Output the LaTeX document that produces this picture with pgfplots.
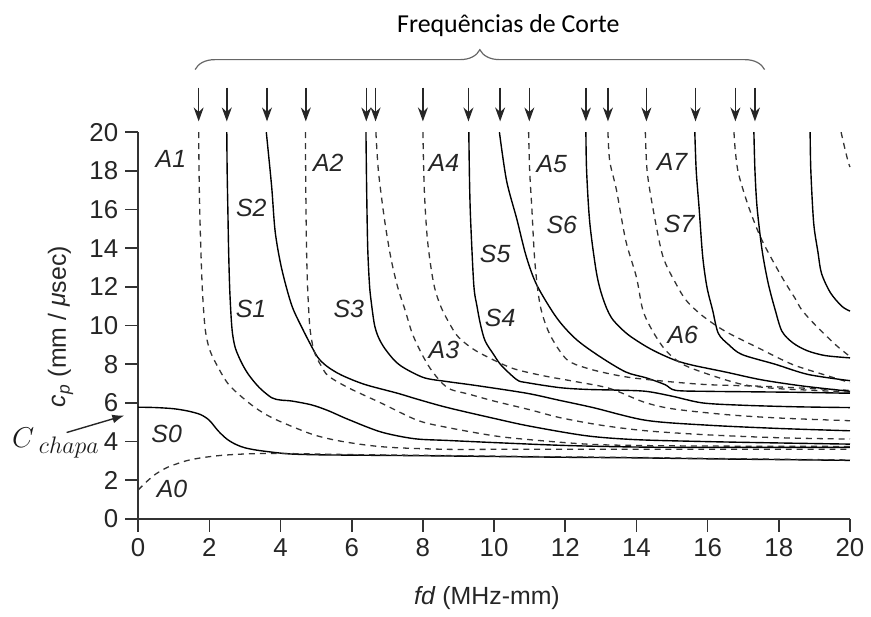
\documentclass[border=0pt]{standalone}
\usepackage{fontspec}
\setmainfont{Liberation Sans}
\newfontfamily\titlefont{Carlito}
\usepackage{pgfplots}
\pgfplotsset{compat=1.18}
\usetikzlibrary{arrows.meta,decorations.pathreplacing}

\pgfplotsset{
  mode s/.style={black, line width=0.7pt, smooth, tension=0.5},
  mode a/.style={black!80, line width=0.65pt, dash pattern=on 3pt off 2.5pt, smooth, tension=0.5},
}
\tikzset{lbl/.style={font=\fontsize{12.5}{14}\selectfont\itshape, text=black!85, inner sep=0pt}}

\begin{document}
\begin{tikzpicture}
\begin{axis}[
  scale only axis, width=358pt, height=194.5pt,
  xmin=0, xmax=20, ymin=0, ymax=20,
  xtick={0,2,...,20}, ytick={0,2,...,20},
  axis x line*=bottom, axis y line*=left,
  xtick pos=left, ytick pos=left,
  axis line style={-, black!80, line width=0.9pt},
  y axis line style={line width=1.2pt},
  tick align=outside, major tick length=6.5pt,
  tick style={black!80, line width=0.8pt},
  ticklabel style={font=\fontsize{13}{15}\selectfont, text=black!85},
  /pgf/number format/assume math mode=true,
  xlabel={\textit{fd} (MHz-mm)},
  ylabel={{\itshape c}\textsubscript{\itshape p} (mm / {\itshape μ}sec)},
  every axis x label/.style={at={(rel axis cs:0.49,-0.205)}, anchor=center,
    font=\fontsize{12.5}{14}\selectfont, text=black!85},
  every axis y label/.style={at={(rel axis cs:-0.109,0.497)}, anchor=center,
    rotate=90, font=\fontsize{12.5}{14}\selectfont, text=black!85},
  clip=false,
]
% picture frame
\path (rel axis cs:-0.1941,-0.2339) rectangle (rel axis cs:1.0223,1.3419);

% S0 / A0
\addplot[mode s] coordinates {(0,5.78) (0.5,5.76) (1.0,5.7) (1.4,5.58) (1.75,5.4) (2.0,5.1) (2.25,4.55) (2.5,4.12) (2.75,3.85) (3.0,3.68) (3.4,3.54) (4.2,3.37) (5,3.32) (6,3.3) (8,3.27) (10,3.23) (12,3.19) (14,3.16) (16,3.11) (18,3.07) (20,3.03)};
\addplot[mode a] coordinates {(0,1.5) (0.25,1.95) (0.5,2.33) (0.8,2.65) (1.1,2.86) (1.4,3.03) (1.8,3.17) (2.35,3.29) (3.0,3.36) (3.75,3.39) (5,3.36) (6,3.33) (8,3.29) (10,3.25) (12,3.21) (14,3.18) (16,3.13) (18,3.09) (20,3.05)};

% A1
\addplot[mode a] coordinates {(1.70,20) (1.71,18) (1.73,16) (1.76,14) (1.8,12) (1.85,10.5) (1.9,9.6) (2.0,8.8) (2.17,8.1) (2.54,6.96) (3.1,6.02) (3.5,5.5) (3.94,5.08) (4.87,4.39) (5.61,4.05) (6.5,3.8) (7.3,3.68) (8.7,3.6) (10,3.6) (12,3.6) (14,3.6) (16,3.6) (18,3.6) (20,3.6)};
% S1
\addplot[mode s] coordinates {(2.49,20) (2.5,18) (2.52,16) (2.54,14) (2.57,12) (2.61,10.5) (2.65,9.6) (2.73,8.84) (2.9,8.1) (3.1,7.47) (3.4,6.8) (3.75,6.27) (4.0,6.15) (4.31,6.1) (4.87,5.9) (5.34,5.6) (5.9,5.15) (6.82,4.5) (7.76,4.15) (8.7,4.06) (10,3.95) (12,3.8) (14,3.72) (16,3.7) (18,3.7) (20,3.7)};
% S2
\addplot[mode s] coordinates {(3.6,20) (3.75,17.2) (3.85,14.85) (4.03,12.96) (4.31,11.07) (4.6,9.9) (4.85,9.0) (5.05,8.35) (5.3,7.9) (5.7,7.45) (6.36,6.96) (7.29,6.5) (7.85,6.19) (8.69,5.76) (10,5.2) (11,4.8) (12.6,4.3) (14,4.1) (16,4.0) (18,3.93) (20,3.87)};
% A2
\addplot[mode a] coordinates {(4.7,20) (4.71,17) (4.73,14) (4.76,12) (4.82,10) (4.9,9.0) (5.0,8.4) (5.15,7.9) (5.34,7.4) (5.9,6.79) (6.82,6.0) (7.85,5.1) (8.69,4.73) (10,4.3) (11,4.1) (12.6,3.87) (14,3.8) (16,3.77) (18,3.76) (20,3.75)};
% S3
\addplot[mode s] coordinates {(6.4,20) (6.42,17) (6.45,14) (6.5,12.1) (6.55,11.2) (6.64,10.04) (6.75,9.4) (6.92,8.84) (7.2,8.2) (7.48,7.8) (8.04,7.3) (8.7,7.1) (9.5,6.9) (10.92,6.5) (11.8,6.15) (12.78,5.76) (14.27,5.1) (16,4.85) (18,4.68) (20,4.56)};
% A3
\addplot[mode a] coordinates {(6.68,20) (6.75,18) (6.92,15.5) (7.1,13.5) (7.29,12) (7.5,10.8) (7.7,9.6) (7.95,8.6) (8.2,7.8) (8.5,7.1) (8.78,6.7) (9.3,6.45) (9.99,6.1) (11,5.65) (11.85,5.24) (13,4.85) (14.27,4.56) (16,4.35) (18,4.2) (20,4.13)};
% A4
\addplot[mode a] coordinates {(8.0,20) (8.04,17) (8.13,14.4) (8.3,12.2) (8.5,11.0) (8.78,10.0) (9.0,9.4) (9.4,8.8) (9.9,8.3) (10.55,7.77) (11.4,7.4) (12.3,7.1) (13.25,6.75) (14.2,6.05) (15,5.7) (16.5,5.4) (18,5.22) (20,5.08)};
% S4
\addplot[mode s] coordinates {(9.29,20) (9.31,17.5) (9.34,15.5) (9.43,12.1) (9.52,11) (9.62,10.04) (9.75,9.2) (9.99,8.5) (10.2,7.95) (10.64,7.2) (10.92,7.05) (11.85,6.79) (12.6,6.7) (13.5,6.66) (14.27,6.6) (15,6.35) (15.86,6.0) (17,5.88) (18.5,5.8) (20,5.76)};
% S5
\addplot[mode s] coordinates {(10.15,20) (10.35,17.5) (10.64,15.5) (10.9,13.6) (11.2,12.1) (11.76,10.4) (12.3,9.3) (12.97,8.4) (13.7,7.6) (14.27,7.3) (14.8,6.95) (15.1,6.65) (16,6.6) (17,6.58) (18.5,6.55) (20,6.5)};
% A5
\addplot[mode a] coordinates {(10.97,20) (11.0,18) (11.06,16.1) (11.15,13.2) (11.3,11.0) (11.57,9.53) (12.04,8.25) (12.6,7.8) (13.34,7.47) (14.1,7.25) (15.86,6.96) (17.7,6.85) (20,6.65)};
% S6
\addplot[mode s] coordinates {(12.58,20) (12.6,18) (12.69,15.3) (12.88,12.7) (13.06,11.4) (13.3,10.4) (13.72,9.6) (14.2,9.0) (14.6,8.6) (15.1,8.2) (15.58,7.95) (16.5,7.6) (17.5,7.2) (18.65,6.88) (20,6.6)};
% A6
\addplot[mode a] coordinates {(13.2,20) (13.25,18.5) (13.44,17.0) (13.7,14.4) (14.0,12.5) (14.18,10.8) (14.46,9.7) (14.83,8.7) (15.3,8.0) (16.04,7.47) (16.97,6.96) (17.9,6.75) (19,6.65) (20,6.55)};
% A7
\addplot[mode a] coordinates {(14.25,20) (14.3,18) (14.46,16.1) (14.74,13.6) (15.1,12.2) (15.4,11.3) (15.86,10.5) (16.5,9.7) (17.43,8.84) (18.37,8.0) (19.2,7.5) (20,7.05)};
% S7
\addplot[mode s] coordinates {(15.64,20) (15.68,18) (15.76,16.1) (15.86,13.6) (15.98,12) (16.14,10.8) (16.3,9.6) (16.6,9.0) (16.97,8.5) (17.9,8.0) (18.83,7.47) (20,7.15)};
% A8
\addplot[mode a] coordinates {(16.74,20) (16.78,19) (16.87,17.84) (17.16,16.1) (17.53,14.4) (18.09,12.5) (18.46,11.4) (18.65,10.8) (19.02,10.04) (19.6,9.0) (20,8.4)};
% S8
\addplot[mode s] coordinates {(17.3,20) (17.33,18) (17.39,16.1) (17.53,13.9) (17.7,12.2) (17.9,10.8) (18.09,9.7) (18.4,9.1) (18.8,8.7) (19.3,8.45) (20,8.33)};
% S9
\addplot[mode s] coordinates {(18.88,20) (18.9,18) (18.98,15.3) (19.1,13.8) (19.2,12.7) (19.45,11.7) (19.77,11.0) (20,10.75)};
% A9
\addplot[mode a] coordinates {(19.75,20) (19.85,19.2) (19.95,18.46) (20,18.2)};

% cut-off arrows
\addplot[black!85, line width=0.8pt, -{Stealth[length=7pt,width=5pt]},
  quiver={u=0, v=-1.75}] coordinates {(1.70,22.31) (2.49,22.31) (3.62,22.31) (4.71,22.31) (6.41,22.31) (6.67,22.31) (8.0,22.31) (9.28,22.31) (10.17,22.31) (10.99,22.31) (12.58,22.31) (13.2,22.31) (14.28,22.31) (15.66,22.31) (16.78,22.31) (17.33,22.31)};

\draw[decorate, decoration={brace, amplitude=10pt}, black!60, line width=0.6pt]
  (axis cs:1.6,23.24) -- (axis cs:17.6,23.24);
\node[font=\titlefont\fontsize{13}{15}\selectfont, text=black] at (axis cs:10.4,25.5) {Frequências de Corte};

% mode labels
\node[lbl] at (axis cs:0.92,18.64) {A1};
\node[lbl] at (axis cs:3.18,16.09) {S2};
\node[lbl] at (axis cs:5.34,18.41) {A2};
\node[lbl] at (axis cs:3.17,10.85) {S1};
\node[lbl] at (axis cs:5.92,10.85) {S3};
\node[lbl] at (axis cs:0.80,4.40) {S0};
\node[lbl] at (axis cs:0.95,1.57) {A0};
\node[lbl] at (axis cs:8.59,18.41) {A4};
\node[lbl] at (axis cs:11.62,18.35) {A5};
\node[lbl] at (axis cs:11.9,15.19) {S6};
\node[lbl] at (axis cs:10.03,13.68) {S5};
\node[lbl] at (axis cs:10.17,10.39) {S4};
\node[lbl] at (axis cs:8.59,8.76) {A3};
\node[lbl] at (axis cs:15.0,18.46) {A7};
\node[lbl] at (axis cs:15.2,15.27) {S7};
\node[lbl] at (axis cs:15.3,9.53) {A6};

% plate velocity
\node[anchor=base west, inner sep=0pt, text=black!90] at (axis cs:-3.55,3.70)
  {\fontsize{14}{16}\selectfont$C$\,\raisebox{-3pt}{\fontsize{11.5}{13}\selectfont$chapa$}};
\draw[-{Latex[length=6pt,width=4.5pt]}, line width=0.7pt, black!85]
  (axis cs:-2.01,4.47) -- (axis cs:-0.39,5.35);
\end{axis}
\end{tikzpicture}
\end{document}
